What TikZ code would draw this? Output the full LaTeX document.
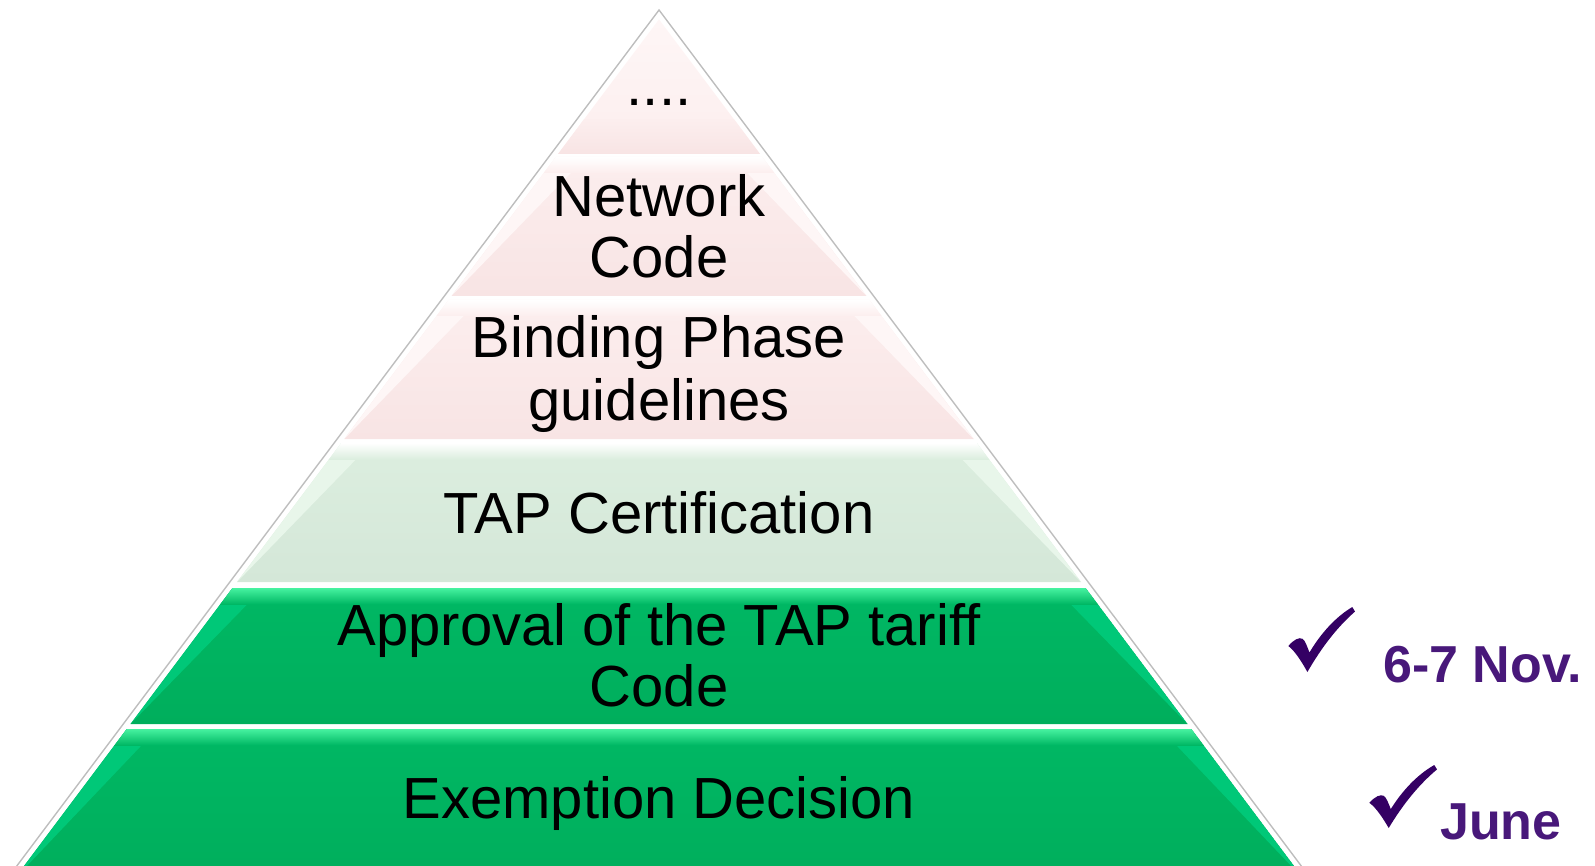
\documentclass[tikz,border=0pt]{standalone}
\usepackage{fontspec}
\setmainfont{Liberation Sans}
\definecolor{pinkbody}{RGB}{252,238,238}
\definecolor{pinkbot}{RGB}{248,228,228}
\definecolor{pinkside}{RGB}{254,246,246}
\definecolor{tapbody}{RGB}{220,238,223}
\definecolor{tapbot}{RGB}{212,231,216}
\definecolor{tapside}{RGB}{232,246,234}
\definecolor{grbody}{RGB}{0,184,100}
\definecolor{grbot}{RGB}{0,174,92}
\definecolor{grtop}{RGB}{70,242,160}
\definecolor{grside}{RGB}{0,200,120}
\definecolor{outline}{RGB}{190,190,190}
\definecolor{checkc}{RGB}{52,0,100}
\definecolor{datec}{RGB}{72,24,122}
\tikzset{
  lbl/.style={font=\fontsize{58}{62}\selectfont, inner sep=0pt, anchor=base, text=black},
  datelbl/.style={font=\fontsize{52}{56}\selectfont\bfseries, inner sep=0pt, anchor=base west, text=datec},
}
% layer: #1 top y, #2 bottom y, #3 top colour, #4 body colour, #5 bottom colour, #6 side colour
\newcommand\pyrlayer[6]{%
  \pgfmathsetmacro\pyTL{673.5-0.75*#1}\pgfmathsetmacro\pyTR{644.5+0.75*#1}%
  \pgfmathsetmacro\pyBL{673.5-0.75*#2}\pgfmathsetmacro\pyBR{644.5+0.75*#2}%
  \pgfmathsetmacro\pyBand{#1+16}%
  \begin{scope}
    \clip (\pyTL,#1) -- (\pyTR,#1) -- (\pyBR,#2) -- (\pyBL,#2) -- cycle;
    \shade[top color=#4, bottom color=#5] (0,#1) rectangle (1600,#2);
    \fill[#6] (\pyTL,#1) -- ($(\pyTL,#1)+(18,13)$) -- (\pyBL,#2) -- cycle;
    \fill[#6] (\pyTR,#1) -- ($(\pyTR,#1)+(-18,13)$) -- (\pyBR,#2) -- cycle;
    \shade[top color=#3, bottom color=#4] (0,#1) rectangle (1600,\pyBand);
  \end{scope}}
\newcommand\checkglyph{%
  (0.02,0.60) .. controls (0.10,0.50) and (0.18,0.46) .. (0.23,0.49)
  .. controls (0.27,0.52) and (0.30,0.62) .. (0.33,0.70)
  .. controls (0.50,0.40) and (0.72,0.15) .. (0.96,0.00)
  -- (1.00,0.07)
  .. controls (0.75,0.30) and (0.52,0.60) .. (0.30,1.00)
  .. controls (0.22,0.85) and (0.12,0.68) .. (0.02,0.60) -- cycle}
\usetikzlibrary{calc}
\begin{document}
\begin{tikzpicture}[x=1pt,y=-1pt]
\useasboundingbox (0,0) rectangle (1595,866);
\clip (0,0) rectangle (1595,866);
% outer outline
\draw[outline, line width=1.4pt] (10,875) -- (659,10) -- (1308,875);
% top triangle
\begin{scope}
  \clip (659,19.3) -- (760,154) -- (558,154) -- cycle;
  \shade[top color=pinkside, bottom color=pinkbody] (500,19) rectangle (800,154);
  \shade[top color=pinkbody, bottom color=pinkbot] (500,120) rectangle (800,154);
\end{scope}
\pyrlayer{157}{296}{white}{pinkbody}{pinkbot}{pinkside}
\pyrlayer{300}{439}{white}{pinkbody}{pinkbot}{pinkside}
\pyrlayer{443}{582}{white}{tapbody}{tapbot}{tapside}
\pyrlayer{588}{724}{grtop}{grbody}{grbot}{grside}
\pyrlayer{729}{880}{grtop}{grbody}{grbot}{grside}
% labels
\node[lbl] (top) at (659,106) {....};
\node[lbl] (nc1) at (659,217) {Network};
\node[lbl] (nc2) at (659,278) {Code};
\node[lbl] (bp1) at (659,358) {Binding Phase};
\node[lbl] (bp2) at (659,420) {guidelines};
\node[lbl] (tap) at (659,533) {TAP Certification};
\node[lbl] (ap1) at (659,645) {Approval of the TAP tariff};
\node[lbl] (ap2) at (659,706) {Code};
\node[lbl] (ex) at (659,818) {Exemption Decision};
% checks and dates
\fill[checkc, shift={(1287,607)}, xscale=68, yscale=65] \checkglyph;
\fill[checkc, shift={(1368,765)}, xscale=69, yscale=63] \checkglyph;
\node[datelbl] (nov) at (1383,682) {6-7 Nov.};
\node[datelbl] (june) at (1440,839) {June};
\end{tikzpicture}
\end{document}
